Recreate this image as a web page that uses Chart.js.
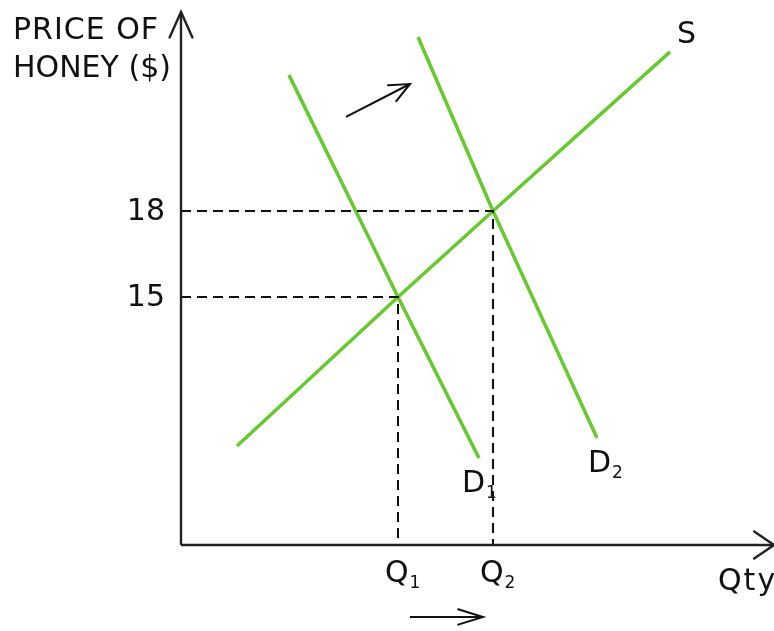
<!DOCTYPE html>
<html>
<head>
<meta charset="utf-8">
<script src="https://cdn.jsdelivr.net/npm/chart.js@4.4.1/dist/chart.umd.min.js"></script>
<style>
    body { margin: 0; background: #fff; }
    canvas { display: block; }
</style>
</head>
<body>
<canvas id="mielChart" width="774" height="631"></canvas>
<script>
// precios y cantidades (cantidad en unidades arbitrarias)
const priceTicks = [15, 18];
const qtyTicks = [21.7, 31.2];
const qtyTickLabels = ['Q1', 'Q2'];

const supplyQty = [5.6, 21.7, 31.2, 48.9];
const supplyPrice = [9.8, 15, 18, 23.55];
const demand1Qty = [10.8, 21.7, 29.8];
const demand1Price = [22.74, 15, 9.38];
const demand2Qty = [23.7, 31.2, 41.6];
const demand2Price = [24.07, 18, 10.08];

// origen de los ejes y extremos
const axisOriginPrice = 6.35;
const axisTopPrice = 24.94;
const axisRightQty = 59.3;

// flechas de desplazamiento
const shiftArrowQty = [16.5, 22.9];
const shiftArrowPrice = [21.28, 22.43];
const qtyArrowQty = [22.9, 30.2];
const qtyArrowPrice = [3.84, 3.84];

const GREEN = '#66c92e';
const INK = '#111';
const FONT = '"DejaVu Sans", sans-serif';

function puntos(xs, ys) {
    return xs.map((x, i) => ({ x: x, y: ys[i] }));
}

function linea(xs, ys, color, width, extra) {
    return Object.assign({
        data: puntos(xs, ys),
        showLine: true,
        borderColor: color,
        borderWidth: width,
        pointRadius: 0,
        fill: false
    }, extra || {});
}

const datasets = [
    // ejes
    linea([0, 0], [axisOriginPrice, axisTopPrice], '#222', 2.4, { arrowHead: { len: 28, half: 0.42 } }),
    linea([0, axisRightQty], [axisOriginPrice, axisOriginPrice], '#222', 2.4, { arrowHead: { len: 24, half: 0.6 } }),
    // guias punteadas
    linea([0, qtyTicks[1], qtyTicks[1]], [priceTicks[1], priceTicks[1], axisOriginPrice], INK, 2, { borderDash: [10, 6] }),
    linea([0, qtyTicks[0], qtyTicks[0]], [priceTicks[0], priceTicks[0], axisOriginPrice], INK, 2, { borderDash: [10, 6] }),
    // curvas
    linea(supplyQty, supplyPrice, GREEN, 3.5),
    linea(demand1Qty, demand1Price, GREEN, 3.5),
    linea(demand2Qty, demand2Price, GREEN, 3.5),
    // flechas
    linea(shiftArrowQty, shiftArrowPrice, INK, 2, { arrowHead: { len: 22, half: 0.42 } }),
    linea(qtyArrowQty, qtyArrowPrice, INK, 2, { arrowHead: { len: 26, half: 0.3 } })
];

// textos: posiciones en coordenadas de datos
const textos = [
    { t: 'PRICE OF', x: -16.8, y: 24.0, spacing: 1 },
    { t: 'HONEY ($)', x: -16.8, y: 22.67 },
    { t: 'S', x: 49.6, y: 23.86 },
    { t: 'D', sub: '1', x: 28.1, y: 8.2 },
    { t: 'D', sub: '2', x: 40.7, y: 8.9 },
    { t: 'Qty', x: 53.7, y: 4.78, spacing: 2 }
];

function escribir(ctx, txt, sub, x, y, spacing) {
    ctx.font = '30px ' + FONT;
    ctx.textBaseline = 'alphabetic';
    ctx.textAlign = 'left';
    ctx.fillStyle = INK;
    let cx = x;
    if (spacing) {
        for (const ch of txt) {
            ctx.fillText(ch, cx, y);
            cx += ctx.measureText(ch).width + spacing;
        }
    } else {
        ctx.fillText(txt, cx, y);
        cx += ctx.measureText(txt).width;
    }
    if (sub) {
        ctx.font = '17px ' + FONT;
        ctx.fillText(sub, cx + 1, y + 6);
    }
}

const textosPlugin = {
    id: 'textos',
    afterDatasetsDraw(chart) {
        const ctx = chart.ctx;
        const sx = chart.scales.x, sy = chart.scales.y;
        ctx.save();

        // cabezas de flecha abiertas
        chart.data.datasets.forEach(ds => {
            if (!ds.arrowHead) return;
            const n = ds.data.length;
            const a = ds.data[n - 2], b = ds.data[n - 1];
            const x1 = sx.getPixelForValue(a.x), y1 = sy.getPixelForValue(a.y);
            const x2 = sx.getPixelForValue(b.x), y2 = sy.getPixelForValue(b.y);
            const ang = Math.atan2(y2 - y1, x2 - x1);
            const h = ds.arrowHead;
            ctx.strokeStyle = ds.borderColor;
            ctx.lineWidth = ds.borderWidth;
            ctx.lineCap = 'round';
            ctx.beginPath();
            ctx.moveTo(x2 - h.len * Math.cos(ang - h.half), y2 - h.len * Math.sin(ang - h.half));
            ctx.lineTo(x2, y2);
            ctx.lineTo(x2 - h.len * Math.cos(ang + h.half), y2 - h.len * Math.sin(ang + h.half));
            ctx.stroke();
        });

        // marcas de precio
        ctx.font = '30px ' + FONT;
        ctx.fillStyle = INK;
        ctx.textAlign = 'right';
        ctx.textBaseline = 'middle';
        priceTicks.forEach(p => {
            ctx.fillText(String(p), sx.getPixelForValue(0) - 16, sy.getPixelForValue(p) + 1);
        });

        // marcas de cantidad
        qtyTicks.forEach((q, i) => {
            const lbl = qtyTickLabels[i];
            escribir(ctx, lbl[0], lbl.slice(1), sx.getPixelForValue(q) - 13, sy.getPixelForValue(5.06));
        });

        textos.forEach(o => {
            escribir(ctx, o.t, o.sub, sx.getPixelForValue(o.x), sy.getPixelForValue(o.y), o.spacing);
        });
        ctx.restore();
    }
};

new Chart(document.getElementById('mielChart').getContext('2d'), {
    type: 'scatter',
    data: { datasets: datasets },
    options: {
        responsive: false,
        animation: false,
        layout: { padding: 0 },
        elements: { line: { tension: 0 } },
        plugins: {
            legend: { display: false },
            tooltip: { enabled: false }
        },
        scales: {
            x: { type: 'linear', display: false, min: -18.1, max: 59.3 },
            y: { type: 'linear', display: false, min: 3.35, max: 25.36 }
        }
    },
    plugins: [textosPlugin]
});
</script>
</body>
</html>
